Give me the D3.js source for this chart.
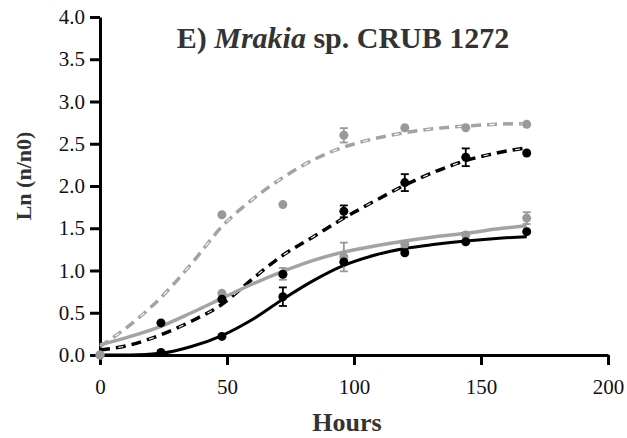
<!DOCTYPE html>
<html><head><meta charset="utf-8">
<script src="https://cdn.jsdelivr.net/npm/d3@7"></script>
<style>body{margin:0;background:#fff}svg{display:block}</style>
</head><body>
<svg id="c" width="627" height="438"></svg>
<script>
// ---- data ----
const hours = [0, 24, 48, 72, 96, 120, 144, 168];
const grayDashedPts  = [0, null, 1.66, 1.78, 2.60, 2.69, 2.69, 2.73];
const grayDashedErr  = [0, 0, 0, 0, 0.085, 0, 0, 0];
const blackDashedPts = [null, 0.38, 0.66, 0.955, 1.70, 2.04, 2.34, 2.39];
const blackDashedErr = [0, 0, 0, 0, 0.07, 0.10, 0.105, 0];
const graySolidPts   = [0, null, 0.73, 0.96, 1.16, 1.31, 1.42, 1.62];
const graySolidErr   = [0, 0, 0, 0.07, 0.17, 0, 0, 0.07];
const blackSolidPts  = [null, 0.03, 0.22, 0.69, 1.10, 1.21, 1.34, 1.46];
const blackSolidErr  = [0, 0, 0, 0.11, 0, 0, 0, 0];

const fitHours = [0, 12, 24, 36, 48, 60, 72, 84, 96, 108, 120, 132, 144, 156, 168];
const grayDashedFit  = [0.10, 0.36, 0.68, 1.08, 1.52, 1.84, 2.10, 2.31, 2.46, 2.56, 2.63, 2.68, 2.71, 2.73, 2.74];
const blackDashedFit = [0.06, 0.12, 0.24, 0.40, 0.60, 0.90, 1.18, 1.40, 1.62, 1.82, 2.01, 2.17, 2.30, 2.39, 2.45];
const graySolidFit   = [0.12, 0.22, 0.34, 0.50, 0.67, 0.84, 0.99, 1.12, 1.22, 1.29, 1.35, 1.40, 1.44, 1.49, 1.53];
const blackSolidFit  = [0.0, 0.0, 0.02, 0.10, 0.23, 0.42, 0.66, 0.88, 1.06, 1.18, 1.26, 1.31, 1.35, 1.38, 1.40];

const xTicks = [0, 50, 100, 150, 200];
const yTicks = [0, 0.5, 1.0, 1.5, 2.0, 2.5, 3.0, 3.5, 4.0];

// ---- drawing ----
const svg = d3.select("#c");
const x = d3.scaleLinear().domain([0, 200]).range([100, 608]);
const y = d3.scaleLinear().domain([0, 4]).range([355, 17]);
const GRAY = "#a3a3a3", GRAYPT = "#999999", BLACK = "#000";
const serif = "Liberation Serif, Times New Roman, serif";

// axes
const yAxis = svg.append("g").attr("transform", "translate(100,0)")
  .call(d3.axisLeft(y).tickValues(yTicks).tickFormat(d3.format(".1f")).tickSize(10).tickSizeOuter(0));
const xAxis = svg.append("g").attr("transform", "translate(0,355)")
  .call(d3.axisBottom(x).tickValues(xTicks).tickFormat(d3.format("d")).tickSize(10).tickSizeOuter(0));
[yAxis, xAxis].forEach(g => {
  g.attr("font-family", serif).attr("font-size", 21);
  g.select(".domain").attr("stroke", BLACK).attr("stroke-width", 3);
  g.selectAll(".tick line").attr("stroke", BLACK).attr("stroke-width", 3);
  g.selectAll(".tick text").attr("font-family", serif).attr("font-size", 21).attr("fill", "#111");
});
yAxis.selectAll(".tick text").attr("x", -15);
xAxis.selectAll(".tick text").attr("y", 24);

// fit lines
const line = d3.line().defined(d => d[1] != null).x(d => x(d[0])).y(d => y(d[1])).curve(d3.curveMonotoneX);
const fits = [
  {v: grayDashedFit, c: GRAY, w: 3.5, dash: "10,6"},
  {v: blackDashedFit, c: BLACK, w: 3.5, dash: "10,6"},
  {v: graySolidFit, c: GRAY, w: 3.5, dash: null},
  {v: blackSolidFit, c: BLACK, w: 3, dash: null}
];
fits.forEach(f => {
  const pts = fitHours.map((h, i) => [h, f.v[i]]);
  svg.append("path").datum(pts)
    .attr("d", line).attr("fill", "none").attr("stroke", f.c)
    .attr("stroke-width", f.w).attr("stroke-dasharray", f.dash);
  if (f.dash) {
    // hollow look on every other dash
    svg.append("path").datum(pts)
      .attr("d", line).attr("fill", "none").attr("stroke", "#fff")
      .attr("stroke-width", 1.1).attr("stroke-dasharray", "0,18.5,5,8.5");
  }
});

// points and error bars
const series = [
  {p: grayDashedPts, e: grayDashedErr, c: GRAYPT},
  {p: graySolidPts, e: graySolidErr, c: GRAYPT},
  {p: blackDashedPts, e: blackDashedErr, c: BLACK},
  {p: blackSolidPts, e: blackSolidErr, c: BLACK}
];
series.forEach(s => {
  const g = svg.append("g");
  hours.forEach((h, i) => {
    const v = s.p[i];
    if (v == null) return;
    const e = s.e[i];
    if (e > 0) {
      const cx = x(h);
      g.append("line").attr("x1", cx).attr("x2", cx).attr("y1", y(v - e)).attr("y2", y(v + e)).attr("stroke", s.c).attr("stroke-width", 1.8);
      [v - e, v + e].forEach(b => g.append("line").attr("x1", cx - 4).attr("x2", cx + 4).attr("y1", y(b)).attr("y2", y(b)).attr("stroke", s.c).attr("stroke-width", 1.8));
    }
    g.append("circle").attr("cx", x(h)).attr("cy", y(v)).attr("r", 4.5).attr("fill", s.c);
  });
});

// title
const t = svg.append("text").attr("x", 343).attr("y", 48).attr("text-anchor", "middle")
  .attr("font-family", serif).attr("font-size", 30).attr("font-weight", "bold").attr("fill", "#333");
t.append("tspan").text("E) ");
t.append("tspan").attr("font-style", "italic").text("Mrakia");
t.append("tspan").text(" sp. CRUB 1272");

// axis titles
svg.append("text").attr("x", 347).attr("y", 431).attr("text-anchor", "middle")
  .attr("font-family", serif).attr("font-size", 26).attr("font-weight", "bold").attr("fill", "#333").text("Hours");
svg.append("text").attr("transform", "translate(31,176) rotate(-90)").attr("text-anchor", "middle")
  .attr("font-family", serif).attr("font-size", 22).attr("font-weight", "bold").attr("fill", "#333").text("Ln (n/n0)");
</script>
</body></html>
